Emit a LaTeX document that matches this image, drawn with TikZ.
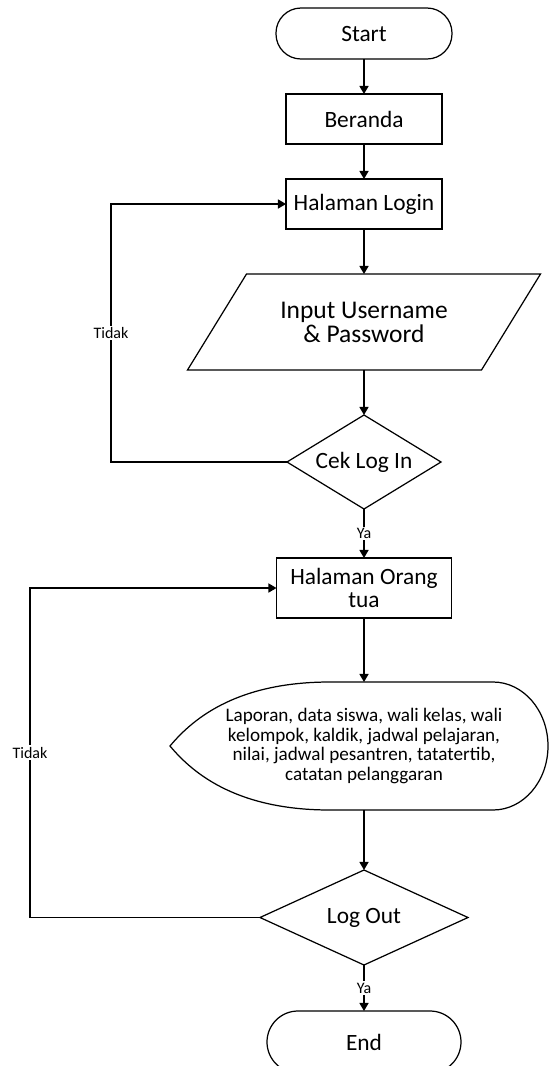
\documentclass[tikz,border=0pt]{standalone}
\usepackage{fontspec}
\setmainfont{Carlito}
\usetikzlibrary{arrows.meta,shapes,positioning}

\begin{document}
\begin{tikzpicture}[
  >={Triangle[length=4.6pt,width=5.2pt]},
  line width=.7pt,
  every node/.style={inner sep=2pt,outer sep=0pt,font=\fontsize{13.3}{13.6}\selectfont},
  node distance=.7cm,
  term/.style={draw,rectangle,rounded corners=.5cm,minimum width=3.52cm,minimum height=1.02cm},
  box/.style={draw,rectangle,minimum width=3.12cm,minimum height=1cm,align=center},
  decision/.style={draw,diamond,inner sep=0pt},
  lbl/.style={fill=white,inner sep=1pt,font=\fontsize{9.1}{11}\selectfont},
  ]
  \useasboundingbox (0,0) rectangle (10.96,-21.32);

  \node[term] (Start) at (7.28,-.67) {Start};
  \node[box, below = of Start] (Beranda) {Beranda};
  \node[box, below = of Beranda] (Login) {Halaman Login};
  \node[minimum width=5.88cm, minimum height=1.92cm, align=center, font=\fontsize{14.5}{13.6}\selectfont, below = .9cm of Login] (Input) {Input Username\\ \& Password};
  \node[decision, aspect=1.64, minimum width=3.08cm, minimum height=1.88cm, below = .9cm of Input] (Cek) {Cek Log In};
  \node[box, minimum width=3.5cm, minimum height=1.2cm, below = .98cm of Cek] (Ortu) {Halaman Orang\\tua};
  \node[minimum width=7.36cm, minimum height=2.56cm, align=center, font=\fontsize{10.9}{11.1}\selectfont, below = 1.28cm of Ortu] (Data) {Laporan, data siswa, wali kelas, wali\\ kelompok, kaldik, jadwal pelajaran,\\ nilai, jadwal pesantren, tatatertib,\\ catatan pelanggaran};
  \node[decision, aspect=2.19, minimum width=4.16cm, minimum height=1.9cm, below = 1.2cm of Data] (Logout) {Log Out};
  \node[term, rounded corners=.62cm, minimum width=3.88cm, minimum height=1.24cm, below = .92cm of Logout] (End) {End};

  % input shape
  \draw ([xshift=-.59cm]Input.south west) -- ([xshift=-.59cm]Input.south east) -- ([xshift=.59cm]Input.north east) -- ([xshift=.59cm]Input.north west) -- cycle;
  % display shape
  \draw ([xshift=2.58cm]Data.north) -- ([xshift=-.68cm]Data.north) .. controls +(-1.8,0) and +(.5,.6) .. ([xshift=-.2cm]Data.west) .. controls +(.5,-.6) and +(-1.8,0) .. ([xshift=-.68cm]Data.south) -- ([xshift=2.58cm]Data.south) arc[start angle=-90,end angle=90,x radius=1.1cm,y radius=1.28cm] -- cycle;

  \draw [->] (Start) -- (Beranda);
  \draw [->] (Beranda) -- (Login);
  \draw [->] (Login) -- (Input);
  \draw [->] (Input) -- (Cek);
  \draw [->] (Cek) -- node[lbl]{Ya} (Ortu);
  \draw [->] (Cek.west) -- ++(-3.52,0) |- node[lbl,pos=.25]{Tidak} (Login.west);
  \draw [->] (Ortu) -- (Data);
  \draw [->] (Data) -- (Logout);
  \draw [->] (Logout) -- node[lbl]{Ya} (End);
  \draw [->] (Logout.west) -- ++(-4.6,0) |- node[lbl,pos=.25]{Tidak} (Ortu.west);

\end{tikzpicture}
\end{document}
